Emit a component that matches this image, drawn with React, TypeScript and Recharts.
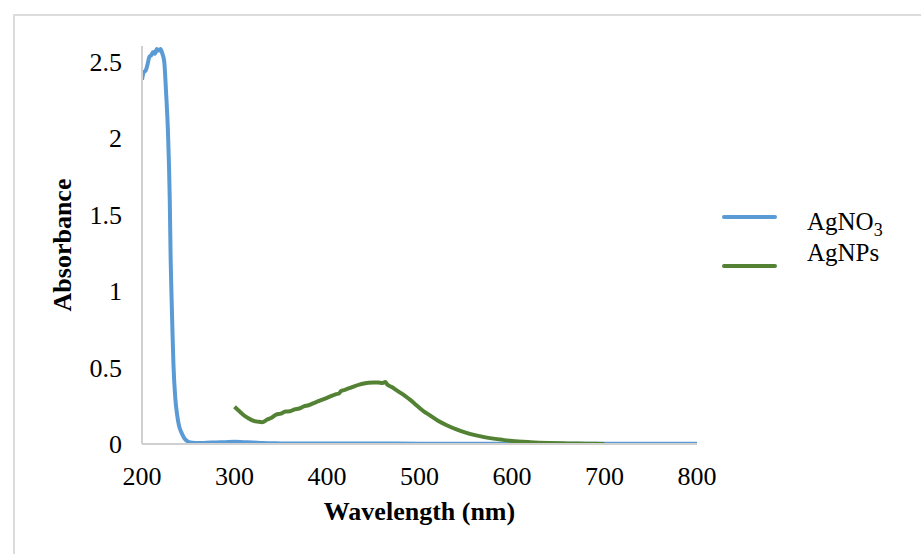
import React from 'react';
import { LineChart, Line, XAxis, YAxis } from 'recharts';

const agno3Wavelength = [200, 202, 204, 206, 208, 210, 212, 214, 216, 218, 220, 222, 224, 226, 228, 230, 231, 232, 233, 234, 236, 238, 240, 243, 246, 250, 255, 260, 270, 280, 290, 300, 310, 320, 330, 340, 350, 375, 400, 450, 500, 550, 600, 650, 700, 750, 800];
const agno3Absorbance = [2.38, 2.43, 2.44, 2.48, 2.53, 2.54, 2.56, 2.55, 2.58, 2.57, 2.58, 2.55, 2.5, 2.3, 2.05, 1.6, 1.2, 0.95, 0.72, 0.52, 0.3, 0.19, 0.12, 0.07, 0.035, 0.015, 0.008, 0.006, 0.008, 0.01, 0.012, 0.014, 0.012, 0.01, 0.006, 0.005, 0.004, 0.003, 0.003, 0.003, 0.002, 0.002, 0.002, 0.002, 0.002, 0.002, 0.002];

const agnpsWavelength = [300, 305, 310, 315, 320, 325, 330, 335, 340, 345, 350, 355, 360, 365, 370, 375, 380, 385, 390, 395, 400, 405, 410, 413, 415, 420, 425, 430, 435, 440, 445, 450, 455, 460, 463, 465, 470, 475, 480, 485, 490, 495, 500, 505, 510, 520, 530, 540, 550, 560, 570, 580, 590, 600, 620, 640, 660, 680, 700];
const agnpsAbsorbance = [0.243, 0.215, 0.188, 0.168, 0.152, 0.146, 0.142, 0.158, 0.172, 0.192, 0.198, 0.212, 0.214, 0.226, 0.232, 0.246, 0.253, 0.266, 0.278, 0.29, 0.302, 0.314, 0.326, 0.33, 0.345, 0.355, 0.366, 0.378, 0.388, 0.395, 0.4, 0.402, 0.402, 0.398, 0.405, 0.39, 0.372, 0.352, 0.332, 0.311, 0.288, 0.262, 0.236, 0.212, 0.192, 0.152, 0.121, 0.095, 0.074, 0.058, 0.045, 0.035, 0.027, 0.02, 0.012, 0.007, 0.004, 0.002, 0.0];

const xTicks = [200, 300, 400, 500, 600, 700, 800];
const yTicks = [0, 0.5, 1, 1.5, 2, 2.5];

const agno3Data = agno3Wavelength.map((x, i) => ({ x, y: agno3Absorbance[i] }));
const agnpsData = agnpsWavelength.map((x, i) => ({ x, y: agnpsAbsorbance[i] }));

const FONT = "'Liberation Serif', 'Times New Roman', serif";
const BLUE = '#5B9BD5';
const GREEN = '#548235';

const seriesList = [
  { name: 'AgNO3', color: BLUE },
  { name: 'AgNPs', color: GREEN },
];

const YTitle = (props: any) => {
  const vb = props.viewBox || {};
  const cx = vb.x - 20;
  const cy = vb.y + vb.height / 2;
  return (
    <text x={cx} y={cy} transform={`rotate(-90, ${cx}, ${cy})`} textAnchor="middle" dominantBaseline="central"
      fontFamily={FONT} fontWeight="bold" fontSize={26} fill="#000">Absorbance</text>
  );
};

const XTitle = (props: any) => {
  const vb = props.viewBox || {};
  const cx = vb.x + vb.width / 2;
  const cy = vb.y + 67;
  return (
    <text x={cx} y={cy} textAnchor="middle" dominantBaseline="central"
      fontFamily={FONT} fontWeight="bold" fontSize={26} fill="#000">Wavelength (nm)</text>
  );
};

const LegendBox = () => (
  <div style={{ position: 'absolute', left: 722, top: 202, width: 190, height: 90, fontFamily: FONT, fontSize: 25, color: '#000' }}>
    {seriesList.map((p, i) => (
      <div key={i}>
        <div style={{ position: 'absolute', left: 0, top: 13 + i * 49, width: 55, height: 4, background: p.color, borderRadius: 2 }} />
        <div style={{ position: 'absolute', left: 85, top: i * 31 + 4, lineHeight: '31px', whiteSpace: 'nowrap' }}>
          {p.name === 'AgNO3' ? (<span>AgNO<sub style={{ fontSize: 18, verticalAlign: 'sub', lineHeight: 0 }}>3</sub></span>) : p.name}
        </div>
      </div>
    ))}
  </div>
);

export default function App() {
  return (
    <div style={{ position: 'absolute', left: 0, top: 0, width: 921, height: 554, background: '#fff', overflow: 'hidden' }}>
      <div style={{ position: 'absolute', left: 13, top: 14, right: -2, bottom: -2, borderTop: '2px solid #dcdcdc', borderLeft: '2px solid #dcdcdc' }} />
      <div style={{ position: 'absolute', left: 0, top: 0 }}>
        <LineChart width={921} height={554} margin={{ top: 46, right: 224, bottom: 80, left: 82 }}>
          <XAxis type="number" dataKey="x" domain={[200, 800]} ticks={xTicks} allowDataOverflow
            tickLine={false} axisLine={{ stroke: '#d0d0d0', strokeWidth: 2 }} height={30} tickMargin={17}
            tick={{ fill: '#000', fontSize: 26, fontFamily: FONT }} label={<XTitle />} />
          <YAxis type="number" domain={[0, 2.6]} ticks={yTicks} allowDataOverflow
            tickLine={false} axisLine={{ stroke: '#d0d0d0', strokeWidth: 2 }} width={60} tickMargin={14}
            tick={{ fill: '#000', fontSize: 26, fontFamily: FONT }} label={<YTitle />} />
          <Line data={agno3Data} dataKey="y" name="AgNO3" type="monotone" stroke={BLUE} strokeWidth={4} dot={false} isAnimationActive={false} />
          <Line data={agnpsData} dataKey="y" name="AgNPs" type="monotone" stroke={GREEN} strokeWidth={4} dot={false} isAnimationActive={false} />
        </LineChart>
      </div>
      <LegendBox />
    </div>
  );
}
